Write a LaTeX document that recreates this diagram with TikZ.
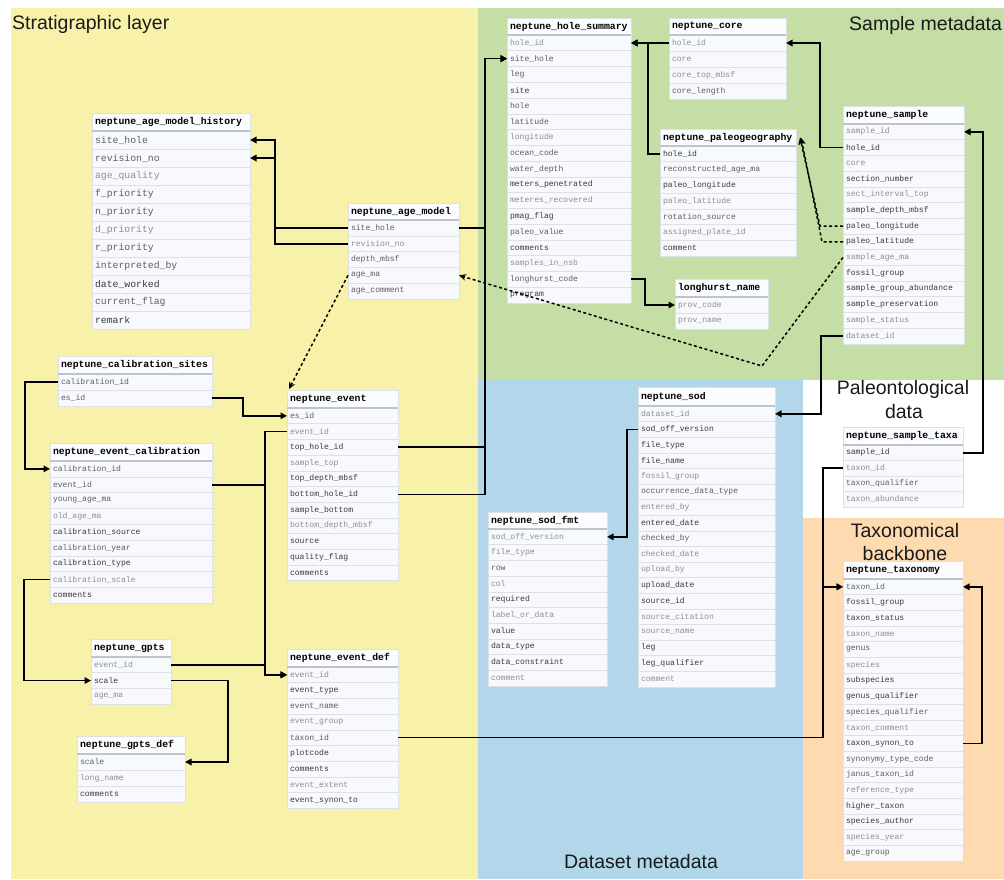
\documentclass[tikz,border=0pt]{standalone}
\usepackage{fontspec}
\setmainfont{Liberation Sans}
\setmonofont{Liberation Mono}
\usetikzlibrary{arrows.meta,calc}
\definecolor{yel}{HTML}{F7F1A9}
\definecolor{grn}{HTML}{C5DEA6}
\definecolor{blu}{HTML}{B2D7EA}
\definecolor{org}{HTML}{FDDAAF}
\definecolor{cellc}{HTML}{F7F9FC}
\definecolor{hdrc}{HTML}{FBFCFE}
\definecolor{sepc}{HTML}{DDE1E6}
\definecolor{hsep}{HTML}{BFC4CA}
\definecolor{tD}{HTML}{3A3A3A}
\definecolor{tM}{HTML}{5E5E5E}
\definecolor{tL}{HTML}{8E8E8E}
\definecolor{ttl}{HTML}{1A1A1A}
\newcommand\hfont{\ttfamily\bfseries\fontsize{9.8}{11}\selectfont}
\newcommand\rowfont{\ttfamily\fontsize{8.1}{9}\selectfont}
\newcommand\rowfontL{\ttfamily\fontsize{9.8}{11}\selectfont}
\newcommand\ttlfont{\fontsize{19.5}{23}\selectfont}
\tikzset{
  cell/.style={draw=sepc, line width=0.6pt, fill=cellc, inner sep=0pt, outer sep=0pt},
  hdrcell/.style={cell, fill=hdrc},
  celltxt/.style={anchor=west, inner sep=0pt, outer sep=0pt},
  hline/.style={draw=hsep, line width=1.2pt},
  fk/.style={draw=black, line width=1.6pt, -{Triangle[length=6.5pt,width=6.5pt]}},
  dfk/.style={draw=black, line width=1.5pt, dash pattern=on 3pt off 2.5pt, -{Stealth[length=7pt,width=6.5pt]}},
  ttlnode/.style={font=\ttlfont, text=ttl, inner sep=0pt}
}
\newcommand\tbl[9]{%
  \node[hdrcell, minimum width=#4pt, minimum height=#5pt, anchor=north west] (#1) at (#2,#3) {};
  \node[celltxt, font=\hfont, text=black] (#1-h) at ([xshift=3pt]#1.west) {#8};
  \foreach \fld/\fcl [count=\i] in {#9} {%
    \node[cell, minimum width=#4pt, minimum height=#6pt, anchor=north west] (#1-\i) at ({#2},{#3+#5+(\i-1)*#6}) {};
    \node[celltxt, font=#7, text=t\fcl] (#1-\i-t) at ([xshift=3pt]#1-\i.west) {\fld};
  }%
  \draw[hline] (#1.south west) -- (#1.south east);
}
\begin{document}
\catcode`\_=12
\begin{tikzpicture}[x=1pt,y=-1pt]
\useasboundingbox (0,0) rectangle (1004,879);
\fill[white] (0,0) rectangle (1004,879);
\fill[yel] (11,8) rectangle (478,879);
\fill[grn] (478,8) rectangle (1004,380);
\fill[blu] (478,380) rectangle (803,879);
\fill[org] (803,518) rectangle (1004,879);

% region titles
\node[ttlnode, anchor=base west] (t1) at (12,29) {Stratigraphic layer};
\node[ttlnode, anchor=base west] (t2) at (849,30) {Sample metadata};
\node[ttlnode, anchor=base] (t3) at (903,394) {Paleontological};
\node[ttlnode, anchor=base] (t3b) at (904,418) {data};
\node[ttlnode, anchor=base] (t4) at (905,537) {Taxonomical};
\node[ttlnode, anchor=base] (t4b) at (905,560) {backbone};
\node[ttlnode, anchor=base] (t5) at (641,868) {Dataset metadata};

% tables
\tbl{amh}{92}{113}{158}{18}{18}{\rowfontL}{neptune_age_model_history}{site_hole/M,revision_no/M,age_quality/L,f_priority/M,n_priority/M,d_priority/L,r_priority/M,interpreted_by/M,date_worked/D,current_flag/M,remark/D}
\tbl{am}{348}{203}{111}{17}{15.8}{\rowfont}{neptune_age_model}{site_hole/M,revision_no/L,depth_mbsf/M,age_ma/M,age_comment/M}
\tbl{hs}{507}{18}{124}{17}{15.76}{\rowfont}{neptune_hole_summary}{hole_id/L,site_hole/M,leg/M,site/D,hole/M,latitude/M,longitude/L,ocean_code/M,water_depth/M,meters_penetrated/D,meteres_recovered/L,pmag_flag/D,paleo_value/M,comments/D,samples_in_nsb/L,longhurst_code/M,program/D}
\tbl{cr}{669}{18}{117}{17}{16}{\rowfont}{neptune_core}{hole_id/L,core/L,core_top_mbsf/L,core_length/M}
\tbl{pg}{660}{129}{136}{17}{15.7}{\rowfont}{neptune_paleogeography}{hole_id/D,reconstructed_age_ma/M,paleo_longitude/D,paleo_latitude/L,rotation_source/M,assigned_plate_id/L,comment/D}
\tbl{lh}{675}{279}{93}{18}{16}{\rowfont}{longhurst_name}{prov_code/L,prov_name/L}
\tbl{smp}{843}{106}{121}{18}{15.7}{\rowfont}{neptune_sample}{sample_id/L,hole_id/D,core/L,section_number/D,sect_interval_top/L,sample_depth_mbsf/D,paleo_longitude/D,paleo_latitude/D,sample_age_ma/L,fossil_group/D,sample_group_abundance/D,sample_preservation/D,sample_status/L,dataset_id/L}
\tbl{cs}{58}{356}{154}{18}{16}{\rowfont}{neptune_calibration_sites}{calibration_id/M,es_id/M}
\tbl{ec}{50}{443}{162}{18}{15.8}{\rowfont}{neptune_event_calibration}{calibration_id/M,event_id/M,young_age_ma/M,old_age_ma/L,calibration_source/D,calibration_year/M,calibration_type/D,calibration_scale/L,comments/D}
\tbl{ev}{287}{390}{111}{18}{15.7}{\rowfont}{neptune_event}{es_id/M,event_id/L,top_hole_id/D,sample_top/L,top_depth_mbsf/D,bottom_hole_id/D,sample_bottom/D,bottom_depth_mbsf/L,source/D,quality_flag/D,comments/D}
\tbl{gp}{91}{639}{80}{18}{15.7}{\rowfont}{neptune_gpts}{event_id/L,scale/D,age_ma/L}
\tbl{gd}{77}{736}{108}{18}{16}{\rowfont}{neptune_gpts_def}{scale/M,long_name/L,comments/D}
\tbl{ed}{287}{649}{111}{18}{15.7}{\rowfont}{neptune_event_def}{event_id/L,event_type/D,event_name/M,event_group/L,taxon_id/M,plotcode/D,comments/D,event_extent/L,event_synon_to/D}
\tbl{sf}{488}{512}{119}{17}{15.7}{\rowfont}{neptune_sod_fmt}{sod_off_version/L,file_type/L,row/M,col/L,required/D,label_or_data/L,value/D,data_type/D,data_constraint/D,comment/L}
\tbl{sod}{638}{387}{137}{19}{15.6}{\rowfont}{neptune_sod}{dataset_id/L,sod_off_version/D,file_type/D,file_name/D,fossil_group/L,occurrence_data_type/M,entered_by/L,entered_date/D,checked_by/M,checked_date/L,upload_by/L,upload_date/D,source_id/D,source_citation/L,source_name/L,leg/D,leg_qualifier/D,comment/L}
\tbl{st}{843}{427}{120}{18}{15.5}{\rowfont}{neptune_sample_taxa}{sample_id/D,taxon_id/L,taxon_qualifier/M,taxon_abundance/L}
\tbl{tx}{843}{561}{120}{18}{15.67}{\rowfont}{neptune_taxonomy}{taxon_id/M,fossil_group/D,taxon_status/D,taxon_name/L,genus/M,species/L,subspecies/D,genus_qualifier/D,species_qualifier/M,taxon_comment/L,taxon_synon_to/D,synonymy_type_code/M,janus_taxon_id/M,reference_type/L,higher_taxon/D,species_author/D,species_year/L,age_group/M}

% bus coordinates
\coordinate (b1) at (275,0);
\coordinate (b2) at (485,0);
\coordinate (b3) at (648,0);
\coordinate (b4) at (820,0);
\coordinate (b5) at (645,0);
\coordinate (b6) at (821,0);
\coordinate (b7) at (627,0);
\coordinate (b8) at (983,0);
\coordinate (b9) at (823,0);
\coordinate (b10) at (982,0);
\coordinate (b11) at (25,0);
\coordinate (b12) at (243,0);
\coordinate (b13) at (265,0);
\coordinate (b14) at (24,0);
\coordinate (b15) at (228,0);
\coordinate (b16) at (820,0);
\coordinate (b17) at (822,0);
\coordinate (dk) at (762,366);

% connectors
\draw[fk] (am-1.west) -- (am-1.west -| b1) |- (amh-1.east);
\draw[fk] (am-2.west) -- (am-2.west -| b1) |- (amh-2.east);
\draw[fk] (am-1.east) -- (am-1.east -| b2) |- (hs-2.west);
\draw[fk] (ev-3.east) -- (ev-3.east -| b2) |- (hs-2.west);
\draw[fk] (ev-6.east) -- (ev-6.east -| b2) |- (hs-2.west);
\draw[fk] (cr-1.west) -- (cr-1.west -| hs-1.east);
\draw[fk] (pg-1.west) -- (pg-1.west -| b3) |- (hs-1.east);
\draw[fk] (smp-2.west) -- (smp-2.west -| b4) |- (cr-1.east);
\draw[fk] (hs-16.east) -- (hs-16.east -| b5) |- (lh-1.west);
\draw[fk] (smp-14.west) -- (smp-14.west -| b6) |- (sod-1.east);
\draw[fk] (sod-2.west) -- (sod-2.west -| b7) |- (sf-1.east);
\draw[fk] (st-1.east) -- (st-1.east -| b8) |- (smp-1.east);
\draw[fk] (st-2.west) -- (st-2.west -| b9) |- (tx-1.west);
\draw[fk] (ed-5.east) -- (ed-5.east -| b9) |- (tx-1.west);
\draw[fk] (tx-11.east) -- (tx-11.east -| b10) |- (tx-1.east);
\draw[fk] (cs-1.west) -- (cs-1.west -| b11) |- (ec-1.west);
\draw[fk] (cs-2.east) -- (cs-2.east -| b12) |- (ev-1.west);
\draw[fk] (ev-2.west) -- (ev-2.west -| b13) |- (ed-1.west);
\draw[fk] (ec-2.east) -- (ec-2.east -| b13) |- (ed-1.west);
\draw[fk] (gp-1.east) -- (gp-1.east -| b13) |- (ed-1.west);
\draw[fk] (ec-8.west) -- (ec-8.west -| b14) |- (gp-2.west);
\draw[fk] (gp-2.east) -- (gp-2.east -| b15) |- (gd-1.east);
\draw[dfk] (smp-7.west) -- (smp-7.west -| b16) -- ($(pg.east)+(4,0)$);
\draw[dfk] (smp-8.west) -- (smp-8.west -| b17) -- ($(pg.east)+(5,0)$);
\draw[dfk] (smp-9.west) -- (dk) -- (am-4.east);
\draw[dfk] (am-4.west) -- ($(ev.north west)+(2,-1)$);
\end{tikzpicture}
\end{document}
